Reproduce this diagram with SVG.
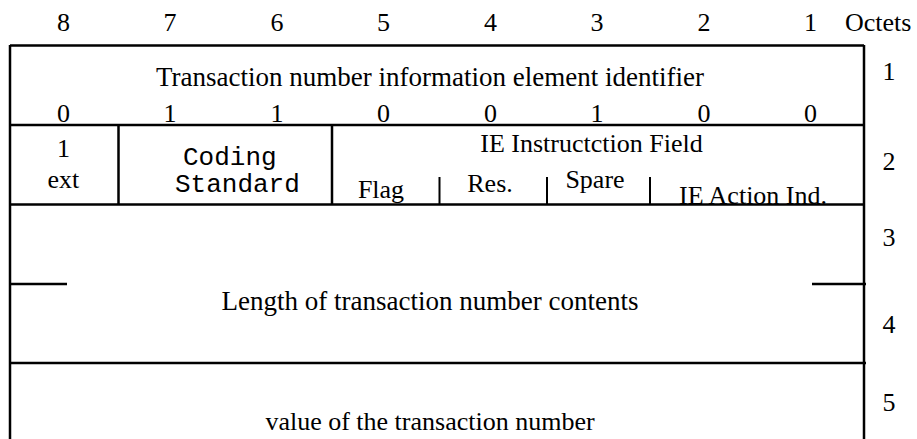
<svg xmlns="http://www.w3.org/2000/svg" width="917" height="439" viewBox="0 0 917 439">
<style>
.t{font-family:"Liberation Serif","Times New Roman",serif;font-size:26px;fill:#000}
.c{text-anchor:middle}
.b{font-size:27px}
.m{font-family:"Liberation Mono","Courier New",monospace;font-size:26px;fill:#000}
.ln{stroke:#000;stroke-width:2.5;fill:none}
.tk{stroke:#000;stroke-width:2;fill:none}
</style>
<rect width="917" height="439" fill="#fff"/>
<g id="header">
<text class="t c" x="63.4" y="31">8</text>
<text class="t c" x="170.1" y="31">7</text>
<text class="t c" x="276.9" y="31">6</text>
<text class="t c" x="383.6" y="31">5</text>
<text class="t c" x="490.4" y="31">4</text>
<text class="t c" x="597.1" y="31">3</text>
<text class="t c" x="703.9" y="31">2</text>
<text class="t c" x="810.6" y="31">1</text>
<text class="t" x="845" y="31">Octets</text>
</g>
<g id="octet1">
<text class="t c b" x="430" y="86">Transaction number information element identifier</text>
<text class="t c" x="63.4" y="122">0</text>
<text class="t c" x="170.1" y="122">1</text>
<text class="t c" x="276.9" y="122">1</text>
<text class="t c" x="383.6" y="122">0</text>
<text class="t c" x="490.4" y="122">0</text>
<text class="t c" x="597.1" y="122">1</text>
<text class="t c" x="703.9" y="122">0</text>
<text class="t c" x="810.6" y="122">0</text>
<text class="t c" x="889" y="80">1</text>
</g>
<g id="octet2">
<text class="t c" x="63.4" y="157">1</text>
<text class="t c" x="63.4" y="188">ext</text>
<text class="m" x="183" y="165">Coding</text>
<text class="m" x="175" y="192">Standard</text>
<text class="t c" x="591.5" y="152">IE Instructction Field</text>
<text class="t c" x="381" y="198">Flag</text>
<text class="t c" x="490" y="192">Res.</text>
<text class="t c" x="595" y="188">Spare</text>
<text class="t c" x="753" y="204">IE Action Ind.</text>
<text class="t c" x="889" y="170">2</text>
</g>
<g id="octet3-4">
<text class="t c b" x="430" y="310">Length of transaction number contents</text>
<text class="t c" x="889" y="246">3</text>
<text class="t c" x="889" y="333">4</text>
</g>
<g id="octet5">
<text class="t c" x="430" y="430">value of the transaction number</text>
<text class="t c" x="889" y="411">5</text>
</g>
<g id="connectors">
<path class="ln" d="M10,45.5 H864 M10,45 V439 M864,45 V439 M10,125 H864 M10,204.5 H865 M10,284 H67 M812,284 H866 M10,363 H866"/>
<path class="ln" d="M118.5,125 V204.5 M332,125 V204.5"/>
<path class="tk" d="M439.5,177 V204 M547,177 V204 M650,177 V204"/>
</g>
</svg>
